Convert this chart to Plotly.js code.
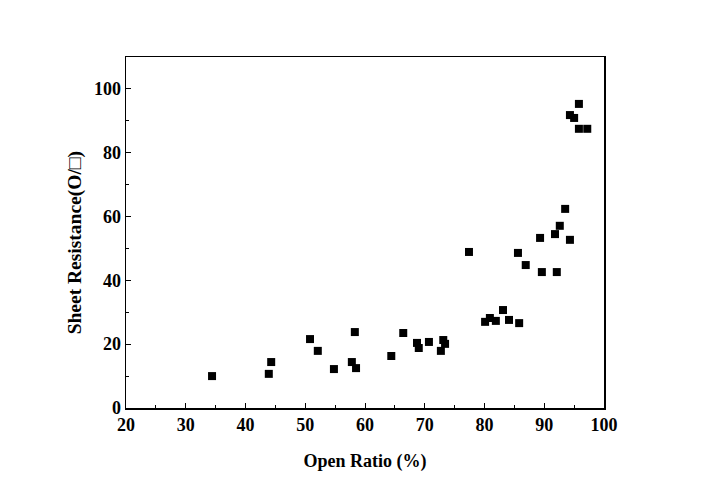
<!DOCTYPE html>
<html>
<head>
<meta charset="utf-8">
<script src="https://cdn.plot.ly/plotly-3.0.1.min.js"></script>
<style>html,body{margin:0;padding:0;background:#fff;}#chart{width:701px;height:490px;}</style>
</head>
<body>
<div id="chart"></div>
<script>
const openRatio = [34.4, 43.9, 44.3, 50.8, 52.1, 54.8, 57.8, 58.3, 58.5, 64.4, 66.4, 68.7, 69.0, 70.7, 72.7, 73.1, 73.4,
  77.4, 80.1, 80.9, 81.9, 83.1, 84.1, 85.8, 85.6, 86.9, 89.3, 89.6, 91.8, 92.1, 92.6, 93.5, 94.3, 94.3, 95.0, 95.8, 95.8, 97.2];
const sheetResistance = [10.0, 10.7, 14.4, 21.6, 17.9, 12.2, 14.4, 23.8, 12.5, 16.3, 23.5, 20.4, 18.8, 20.7, 17.9, 21.3, 20.1,
  48.9, 27.0, 28.2, 27.3, 30.7, 27.6, 26.6, 48.6, 44.8, 53.3, 42.6, 54.5, 42.6, 57.1, 62.4, 52.7, 91.8, 90.9, 95.3, 87.5, 87.5];
const xTicks = [20, 30, 40, 50, 60, 70, 80, 90, 100];
const yTicks = [0, 20, 40, 60, 80, 100];
const xTitle = 'Open Ratio (%)';
const yTitle = 'Sheet Resistance(O/□)';

const fam = '"Liberation Serif", "Times New Roman", serif';

const data = [{
  type: 'scatter', mode: 'markers', x: openRatio, y: sheetResistance,
  marker: {symbol: 'square', size: 8, color: '#000'}, showlegend: false, hoverinfo: 'x+y'
}];

const layout = {
  width: 701, height: 490,
  margin: {l: 126, r: 97, t: 57, b: 82},
  paper_bgcolor: '#fff', plot_bgcolor: '#fff',
  font: {family: fam, size: 18, color: '#000'},
  xaxis: {
    range: [20, 100], tickvals: xTicks, ticktext: xTicks.map(String),
    ticks: 'inside', ticklen: 5, tickwidth: 1, tickcolor: '#000',
    minor: {dtick: 5, tick0: 20, ticks: 'inside', ticklen: 3, tickcolor: '#000'},
    showline: true, linecolor: '#000', linewidth: 1.5, mirror: true,
    showgrid: false, zeroline: false,
    tickfont: {family: fam, size: 18, color: '#000', weight: 'bold'},
    title: {text: '<b>' + xTitle + '</b>', font: {family: fam, size: 18, color: '#000'}, standoff: 20}
  },
  yaxis: {
    range: [0, 110], tickvals: yTicks, ticktext: yTicks.map(String),
    ticks: 'inside', ticklen: 5, tickwidth: 1, tickcolor: '#000',
    minor: {dtick: 10, tick0: 0, ticks: 'inside', ticklen: 3, tickcolor: '#000'},
    showline: true, linecolor: '#000', linewidth: 1.5, mirror: true,
    showgrid: false, zeroline: false,
    tickfont: {family: fam, size: 18, color: '#000', weight: 'bold'}
  },
  annotations: [{
    text: '<b>' + yTitle + '</b>', textangle: -90, showarrow: false,
    xref: 'paper', yref: 'paper', x: -0.107, y: 0.4715, xanchor: 'center', yanchor: 'middle',
    font: {family: fam, size: 19.5, color: '#000'}
  }]
};

Plotly.newPlot('chart', data, layout, {staticPlot: true, displayModeBar: false});
</script>
</body>
</html>
